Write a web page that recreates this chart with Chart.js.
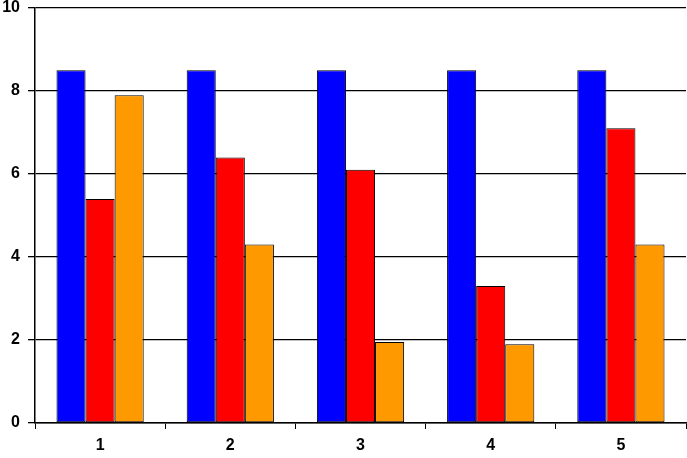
<!DOCTYPE html>
<html>
<head>
<meta charset="utf-8">
<script src="https://cdn.jsdelivr.net/npm/chart.js@4/dist/chart.umd.min.js"></script>
<style>
  html, body { margin: 0; padding: 0; background: #fff; }
  #wrap { width: 687px; height: 458px; }
</style>
</head>
<body>
<div id="wrap"><canvas id="myChart"></canvas></div>
<script>
// data
let categories = ['1', '2', '3', '4', '5']
let blueValues = [8.5, 8.5, 8.5, 8.5, 8.5]
let redValues = [5.4, 6.4, 6.1, 3.3, 7.1]
let orangeValues = [7.9, 4.3, 1.95, 1.9, 4.3]
let yTicks = [0, 2, 4, 6, 8, 10]

let tickFont = { family: 'Arial, "Liberation Sans", sans-serif', size: 16, weight: 'bold' }

let myChart = document.querySelector('#myChart')

new Chart(myChart, {
    type: 'bar',
    data: {
        labels: categories,
        datasets: [
            { data: blueValues, backgroundColor: '#0000FF', borderColor: '#000', borderWidth: 1, borderSkipped: false },
            { data: redValues, backgroundColor: '#FF0000', borderColor: '#000', borderWidth: 1, borderSkipped: false },
            { data: orangeValues, backgroundColor: '#FF9900', borderColor: '#000', borderWidth: 1, borderSkipped: false }
        ]
    },
    options: {
        responsive: true,
        maintainAspectRatio: false,
        animation: false,
        layout: { padding: { top: 8, right: 1, left: 0, bottom: 0 } },
        plugins: { legend: { display: false }, tooltip: { enabled: false } },
        datasets: { bar: { categoryPercentage: 0.67, barPercentage: 1 } },
        scales: {
            x: {
                grid: { drawOnChartArea: false, drawTicks: true, tickLength: 6, color: '#000', offset: true },
                border: { color: '#000', width: 1.5 },
                ticks: { color: '#000', font: tickFont, padding: 7 },
                afterFit: function(scale) { scale.height = 35 }
            },
            y: {
                min: 0,
                max: 10,
                afterBuildTicks: function(scale) { scale.ticks = yTicks.map(v => ({ value: v })) },
                grid: { color: '#000', lineWidth: 1.3, tickLength: 7 },
                border: { color: '#000', width: 1.5 },
                ticks: { color: '#000', font: tickFont, padding: 8 },
                afterFit: function(scale) {
                    scale.width = 35
                    scale.paddingTop = 0
                    scale.paddingBottom = 0
                }
            }
        }
    }
})
</script>
</body>
</html>
